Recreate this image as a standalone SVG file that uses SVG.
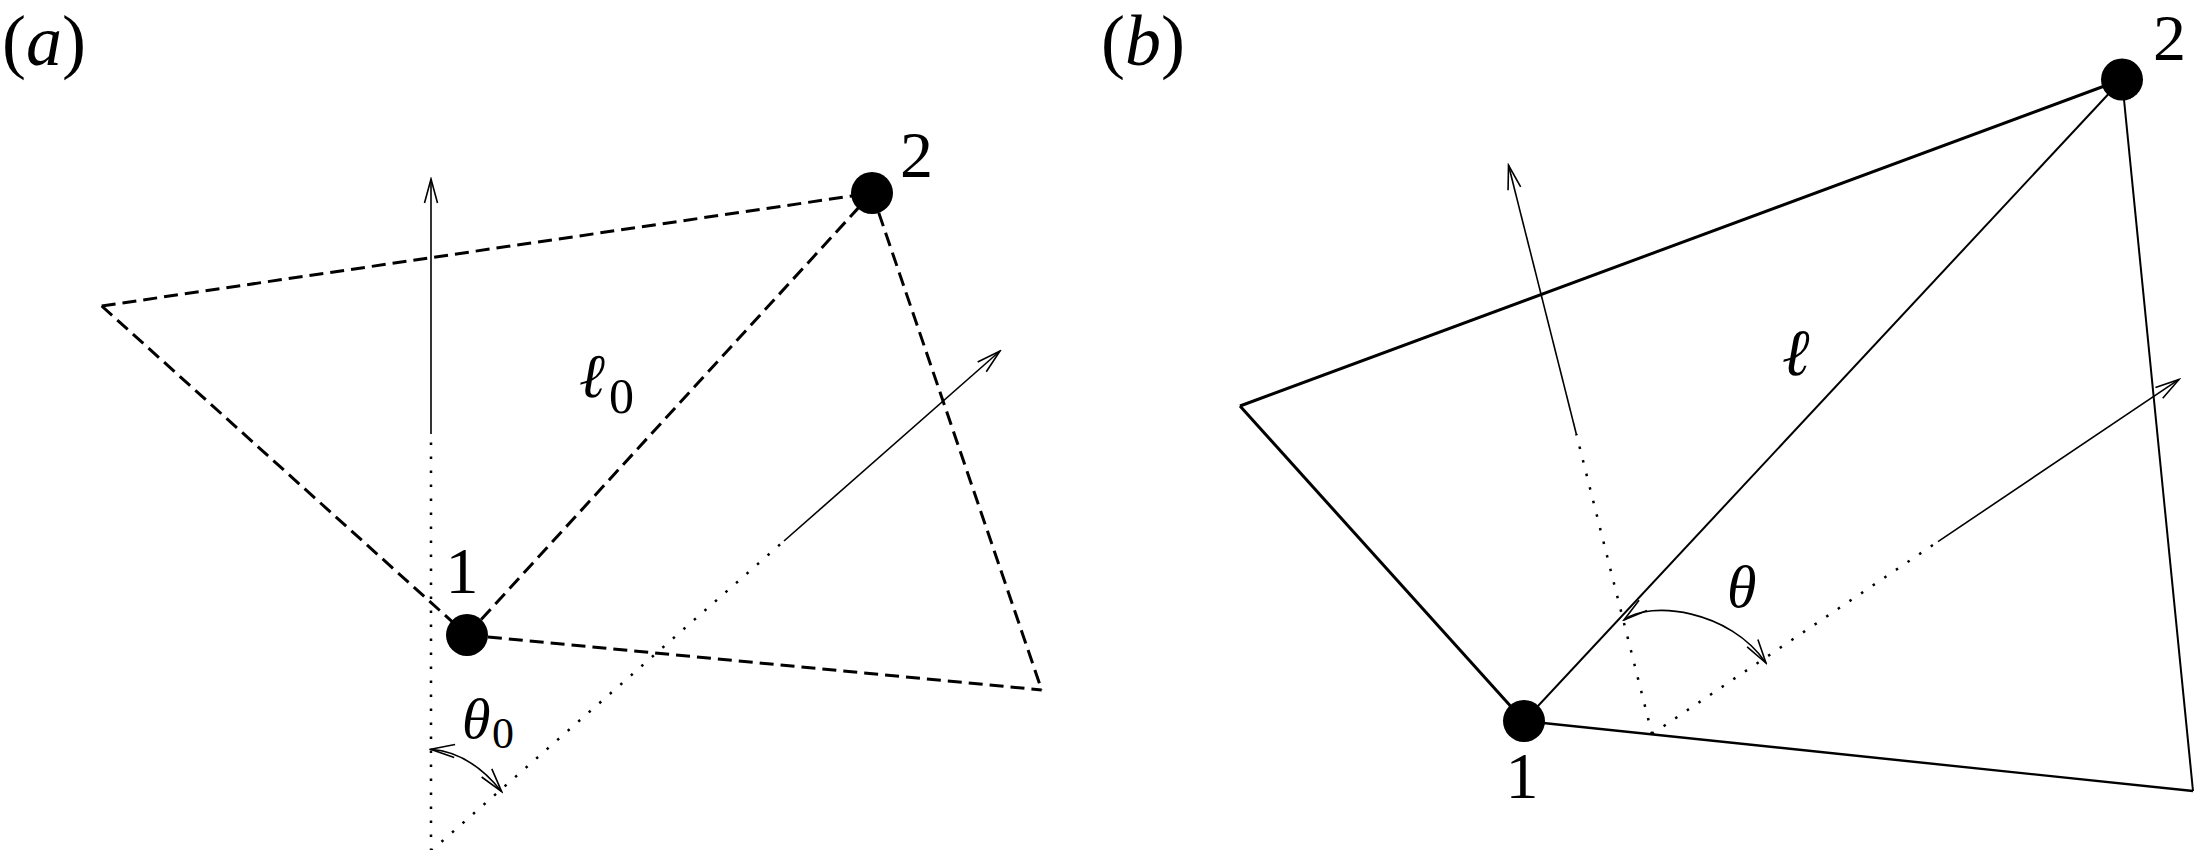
<svg xmlns="http://www.w3.org/2000/svg" width="2195" height="850" viewBox="0 0 2195 850" font-family="'Liberation Serif', 'Times New Roman', Times, serif">
<style>
.it { font-style: italic; }
.dash { fill: none; stroke: #000; stroke-width: 3; stroke-dasharray: 14 7; }
.dot { fill: none; stroke: #000; stroke-width: 2.5; stroke-dasharray: 2.5 11.5; }
.arr { fill: none; stroke: #000; stroke-width: 1.6; }
.thick { fill: none; stroke: #000; stroke-width: 3; }
.thin { fill: none; stroke: #000; stroke-width: 2; }
.node { fill: #000; }
</style>
<defs>
<marker id="ah" viewBox="-1 -8 27 16" refX="24" refY="0" markerWidth="27" markerHeight="16" markerUnits="userSpaceOnUse" orient="auto-start-reverse">
<path d="M0,-6.5 L24,0 L0,6.5" fill="none" stroke="#000" stroke-width="1.6"/>
</marker>
</defs>
<rect width="2195" height="850" fill="#fff"/>

<text x="2" y="65" font-size="72" font-family="Liberation Serif, serif">(<tspan class="it">a</tspan>)</text>
<text x="1101" y="65" font-size="72" font-family="Liberation Serif, serif">(<tspan class="it">b</tspan>)</text>

<g id="connectors">
<!-- panel a -->
<path class="dash" d="M101.7,306 L872,193"/>
<path class="dash" d="M101.7,306 L467,635"/>
<path class="dash" d="M467,635 L1041.7,690"/>
<path class="dash" d="M872,193 L1041.7,690"/>
<path class="dash" d="M467,635 L872,193"/>
<path class="dot" d="M431,851 L431,434"/>
<path class="arr" d="M431,434 L431,179" marker-end="url(#ah)"/>
<path class="dot" d="M431,851 L784,541"/>
<path class="arr" d="M784,541 L1000,351" marker-end="url(#ah)"/>
<path class="arr" d="M430.7,749.3 Q470,752 501.7,791.7" marker-start="url(#ah)" marker-end="url(#ah)"/>
<!-- panel b -->
<path class="thick" d="M1240,406 L2122,79.5"/>
<path class="thick" d="M1240,406 L1524,721"/>
<path class="thin" d="M1524,721 L2193,791" style="stroke-width:2.4"/>
<path class="thin" d="M2122,79.5 L2193,791"/>
<path class="thin" d="M1524,721 L2122,79.5"/>
<path class="dot" d="M1652,734 L1576.3,434"/>
<path class="arr" d="M1576.3,434 L1508.5,165.3" marker-end="url(#ah)"/>
<path class="dot" d="M1652,734 L1938,541.6"/>
<path class="arr" d="M1938,541.6 L2179,379.4" marker-end="url(#ah)"/>
<path class="arr" d="M1624,620 C1650,600 1730,610 1766,663" marker-start="url(#ah)" marker-end="url(#ah)"/>
</g>

<g id="a-node1">
<circle class="node" cx="467" cy="635" r="21"/>
<text x="462" y="593" font-size="66" text-anchor="middle" font-family="Liberation Serif, serif">1</text>
</g>
<g id="a-node2">
<circle class="node" cx="872" cy="193" r="21"/>
<text x="900" y="177" font-size="66" font-family="Liberation Serif, serif">2</text>
</g>
<g id="a-labels">
<text x="579" y="397" font-size="62" class="it" font-family="Liberation Serif, serif">ℓ</text>
<text x="609" y="413" font-size="50" font-family="Liberation Serif, serif">0</text>
<text x="462" y="738" font-size="58" class="it" font-family="Liberation Serif, serif">θ</text>
<text x="492" y="748" font-size="44" font-family="Liberation Serif, serif">0</text>
</g>

<g id="b-node1">
<circle class="node" cx="1524" cy="721" r="21"/>
<text x="1522" y="798" font-size="66" text-anchor="middle" font-family="Liberation Serif, serif">1</text>
</g>
<g id="b-node2">
<circle class="node" cx="2122" cy="79.5" r="21"/>
<text x="2153" y="60" font-size="66" font-family="Liberation Serif, serif">2</text>
</g>
<g id="b-labels">
<text x="1782" y="375" font-size="66" class="it" font-family="Liberation Serif, serif">ℓ</text>
<text x="1727" y="607" font-size="60" class="it" font-family="Liberation Serif, serif">θ</text>
</g>
</svg>
